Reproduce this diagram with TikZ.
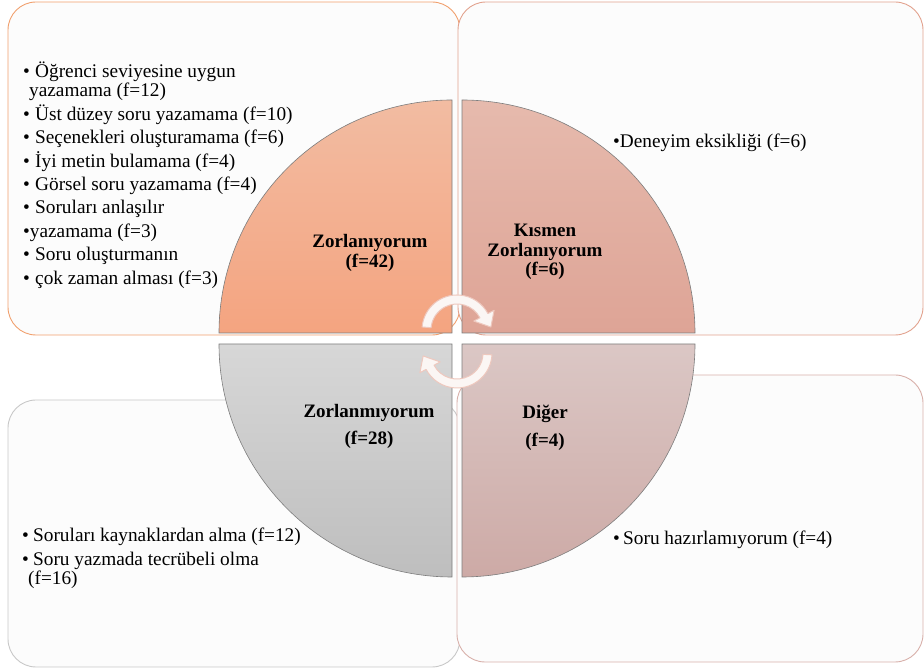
\documentclass[tikz,border=0pt]{standalone}
\usepackage{fontspec}
\setmainfont{Liberation Serif}
\usetikzlibrary{calc}
\definecolor{tlborder}{RGB}{241,160,110}
\definecolor{trborder}{RGB}{226,162,142}
\definecolor{blborder}{RGB}{200,200,200}
\definecolor{brborder}{RGB}{216,176,170}
\definecolor{boxfill}{RGB}{252,252,252}
\definecolor{sectorline}{RGB}{125,125,125}
\definecolor{tltop}{RGB}{242,188,162}
\definecolor{tlbot}{RGB}{244,164,128}
\definecolor{trtop}{RGB}{230,186,173}
\definecolor{trbot}{RGB}{222,164,150}
\definecolor{bltop}{RGB}{215,215,215}
\definecolor{blbot}{RGB}{190,190,190}
\definecolor{brtop}{RGB}{219,199,197}
\definecolor{brbot}{RGB}{205,170,166}
\definecolor{arrowfill}{RGB}{251,246,244}
\definecolor{arrowline}{RGB}{238,200,190}
\newcommand\lbulA{\makebox[12pt][l]{•}}
\newcommand\lbulB{\makebox[11pt][l]{•}}
\newcommand\lbulC{\makebox[10pt][l]{•}}
\begin{document}
\begin{tikzpicture}[x=1pt,y=1pt,
  box/.style={rounded corners=28pt, line width=0.9pt, fill=boxfill},
  sector/.style={draw=sectorline, line width=0.6pt},
  listtext/.style={anchor=base west, inner sep=0pt, font=\fontsize{19.3}{23.4}\selectfont},
  lbl/.style={anchor=base, inner sep=0pt, font=\fontsize{19}{19.5}\selectfont\bfseries},
  cyc/.style={fill=arrowfill, draw=arrowline, line width=1pt, line join=round}]
\useasboundingbox (0,0) rectangle (924,668);

% boxes
\draw[box, draw=tlborder] (8,333) rectangle (460,666);
\draw[box, draw=trborder] (458,333) rectangle (923,666);
\draw[box, draw=blborder] (8,1) rectangle (460,268);
\draw[box, draw=brborder] (457,6) rectangle (923,293);

% sectors
\draw[sector, top color=tltop, bottom color=tlbot] (452,335) -- (219,335) arc[start angle=180, end angle=90, radius=233] -- cycle;
\draw[sector, top color=trtop, bottom color=trbot] (462,335) -- (462,568) arc[start angle=90, end angle=0, radius=233] -- cycle;
\draw[sector, top color=bltop, bottom color=blbot] (452,324) -- (452,91) arc[start angle=270, end angle=180, radius=233] -- cycle;
\draw[sector, top color=brtop, bottom color=brbot] (462,324) -- (695,324) arc[start angle=0, end angle=-90, radius=233] -- cycle;

% circular arrows
\coordinate (C1) at (457,338);
\coordinate (C2) at (457,315);
\draw[cyc] ($(C1)+(175:35)$) arc[start angle=175, end angle=28, radius=35]
  -- ($(C1)+(28:42)$) -- ($(C1)+(5:34)$) -- ($(C1)+(28:19)$) -- ($(C1)+(28:26)$)
  arc[start angle=28, end angle=175, radius=26] -- cycle;
\draw[cyc] ($(C2)+(-3:35)$) arc[start angle=-3, end angle=-152, radius=35]
  -- ($(C2)+(-152:42)$) -- ($(C2)+(-175:34)$) -- ($(C2)+(-152:19)$) -- ($(C2)+(-152:26)$)
  arc[start angle=-152, end angle=-3, radius=26] -- cycle;

% labels
\node[lbl] (zl) at (370,420) {\begin{tabular}[t]{@{}c@{}}Zorlanıyorum\\(f=42)\end{tabular}};
\node[lbl] (kz) at (545,431) {\begin{tabular}[t]{@{}c@{}}Kısmen\\Zorlanıyorum\\(f=6)\end{tabular}};
\node[lbl] (zm) at (369,250) {\begin{tabular}[t]{@{}c@{}}Zorlanmıyorum\\[7.5pt](f=28)\end{tabular}};
\node[lbl] (dg) at (545,249) {\begin{tabular}[t]{@{}c@{}}Diğer\\[8pt](f=4)\end{tabular}};

% lists
\node[listtext] (tl) at (23,590.5) {\begin{tabular}[t]{@{}l@{}}
\lbulA Öğrenci seviyesine uygun\\[-4pt]
\hspace{6pt}yazamama (f=12)\\
\lbulA Üst düzey soru yazamama (f=10)\\
\lbulA Seçenekleri oluşturamama (f=6)\\
\lbulA İyi metin bulamama (f=4)\\
\lbulA Görsel soru yazamama (f=4)\\
\lbulA Soruları anlaşılır\\
•yazamama (f=3)\\
\lbulA Soru oluşturmanın\\
\lbulA çok zaman alması (f=3)
\end{tabular}};
\node[listtext] (tr) at (613,520) {•Deneyim eksikliği (f=6)};
\node[listtext] (bl) at (22,126) {\begin{tabular}[t]{@{}l@{}}
\lbulB Soruları kaynaklardan alma (f=12)\\
\lbulB Soru yazmada tecrübeli olma\\[-4pt]
\hspace{6pt}(f=16)
\end{tabular}};
\node[listtext] (br) at (613,123) {\lbulC Soru hazırlamıyorum (f=4)};
\end{tikzpicture}
\end{document}
